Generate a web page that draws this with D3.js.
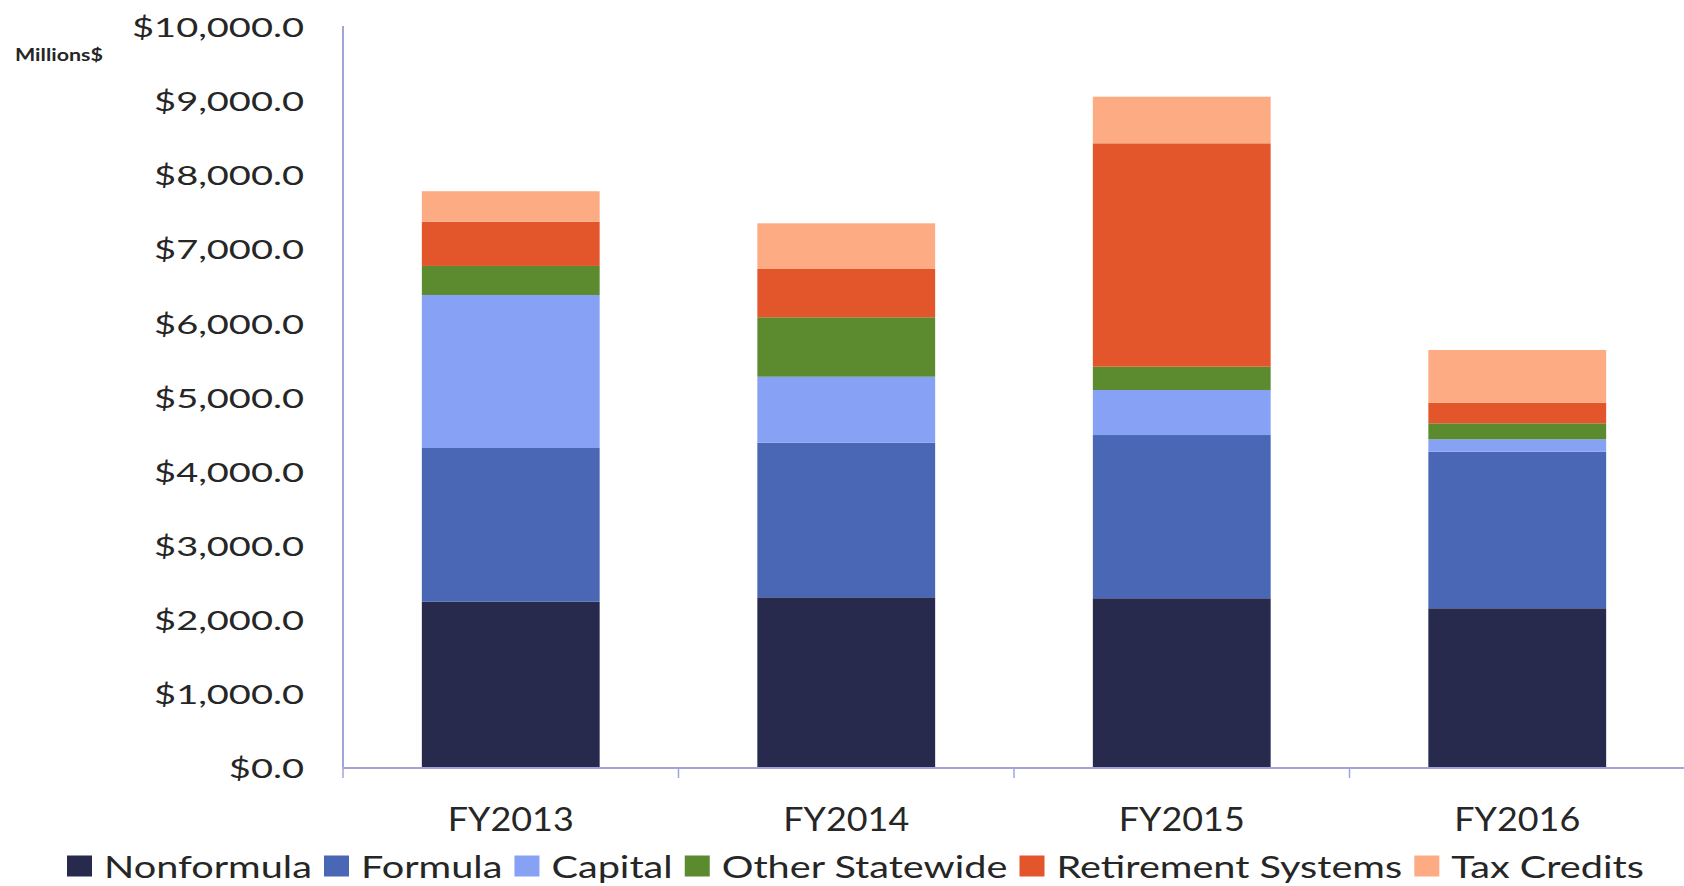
<!DOCTYPE html>
<html><head><meta charset="utf-8">
<script src="https://cdn.jsdelivr.net/npm/d3@7"></script>
<style>
body{margin:0;background:#fff}
svg{display:block}
text{font-family:Lato,"Open Sans",sans-serif;fill:#262626}
</style>
</head><body>
<svg id="chart" width="1684" height="886"></svg>
<script>
// ---- data ----
const categories = ["FY2013", "FY2014", "FY2015", "FY2016"];
const seriesNames = ["Nonformula", "Formula", "Capital", "Other Statewide", "Retirement Systems", "Tax Credits"];
const nonformula        = [2230, 2290, 2277, 2142];
const formula           = [2075, 2087, 2203, 2113];
const capital           = [2065,  890,  608,  167];
const otherStatewide    = [ 392,  802,  314,  216];
const retirementSystems = [ 597,  652, 3015,  278];
const taxCredits        = [ 411,  616,  629,  712];
const yTickValues = [0, 1000, 2000, 3000, 4000, 5000, 6000, 7000, 8000, 9000, 10000];
const unitLabel = "Millions$";

const seriesColors = ["#272a4d", "#4a67b5", "#87a2f5", "#5b8a2f", "#e3562b", "#fdab83"];
const seriesValues = [nonformula, formula, capital, otherStatewide, retirementSystems, taxCredits];

(function () {
const rows = categories.map((c, i) => {
  const r = {category: c};
  seriesNames.forEach((s, k) => r[s] = seriesValues[k][i]);
  return r;
});

const svg = d3.select("#chart");
const W = 1684;
const mLeft = 343, mRight = 1685, mTop = 26, mBottom = 767;

const x = d3.scaleBand().domain(categories).range([mLeft, mRight]).paddingInner(0.47).paddingOuter(0.235);
const y = d3.scaleLinear().domain([0, 10000]).range([mBottom, mTop]);
const color = d3.scaleOrdinal().domain(seriesNames).range(seriesColors);

const stacked = d3.stack().keys(seriesNames)(rows);

// bars
svg.append("g").selectAll("g").data(stacked).join("g")
  .attr("fill", d => color(d.key))
  .selectAll("rect").data(d => d).join("rect")
  .attr("x", d => x(d.data.category))
  .attr("width", x.bandwidth())
  .attr("y", d => y(d[1]))
  .attr("height", d => y(d[0]) - y(d[1]));

const axisColor = "#a3a3dc";

function measure(txt, size, weight) {
  const p = svg.append("text").style("font-size", size + "px").style("font-weight", weight || "normal").text(txt);
  const w = p.node().getComputedTextLength();
  p.remove();
  return w;
}

// y axis
const yAxis = svg.append("g").attr("transform", `translate(${mLeft},0)`)
  .call(d3.axisLeft(y).tickValues(yTickValues).tickFormat(d3.format("$,.1f")).tickSize(0));
yAxis.select(".domain").remove();
const sxY = 150 / measure("$9,000.0", 27);
yAxis.selectAll("text").attr("fill", "#262626").style("font-size", "27px").style("font-family", "Lato")
  .attr("x", 0).attr("dy", null).attr("dominant-baseline", "central").attr("text-anchor", "end")
  .attr("transform", `translate(-39,0) scale(${sxY},1)`);

svg.append("line").attr("x1", mLeft).attr("x2", mLeft).attr("y1", mTop).attr("y2", mBottom)
  .attr("stroke", axisColor).attr("stroke-width", 2);

// x axis line and boundary ticks
svg.append("line").attr("x1", mLeft).attr("x2", W).attr("y1", mBottom + 1).attr("y2", mBottom + 1)
  .attr("stroke", axisColor).attr("stroke-width", 2);
const step = x.step();
const half = step * x.paddingInner() / 2;
const boundaries = categories.map(c => x(c) - half).concat([x(categories[categories.length - 1]) + x.bandwidth() + half]);
svg.append("g").selectAll("line").data(boundaries).join("line")
  .attr("x1", d => d).attr("x2", d => d).attr("y1", mBottom).attr("y2", mBottom + 11)
  .attr("stroke", axisColor).attr("stroke-width", 1.5);

// category labels
const sxX = 126 / measure("FY2013", 33);
svg.append("g").selectAll("text").data(categories).join("text")
  .attr("text-anchor", "middle").attr("dominant-baseline", "central")
  .style("font-size", "33px")
  .attr("transform", d => `translate(${x(d) + x.bandwidth() / 2},818) scale(${sxX},1)`)
  .text(d => d);

// unit label
const sxU = 88 / measure(unitLabel, 17, "bold");
svg.append("text").style("font-size", "17px").style("font-weight", "bold")
  .attr("dominant-baseline", "central")
  .attr("transform", `translate(15,54) scale(${sxU},1)`).text(unitLabel);

// legend
const legFont = 31;
const sxL = 208 / measure("Nonformula", legFont);
const legend = svg.append("g");
let cx = 67;
const sqW = 25, sqH = 21, gap1 = 12, gap2 = 12, legY = 866;
seriesNames.forEach((s) => {
  legend.append("rect").attr("x", cx).attr("y", legY - sqH / 2).attr("width", sqW).attr("height", sqH).attr("fill", color(s));
  cx += sqW + gap1;
  legend.append("text").style("font-size", legFont + "px").attr("dominant-baseline", "central")
    .attr("transform", `translate(${cx},${legY}) scale(${sxL},1)`).text(s);
  cx += measure(s, legFont) * sxL + gap2;
});
})();
</script>
</body></html>
